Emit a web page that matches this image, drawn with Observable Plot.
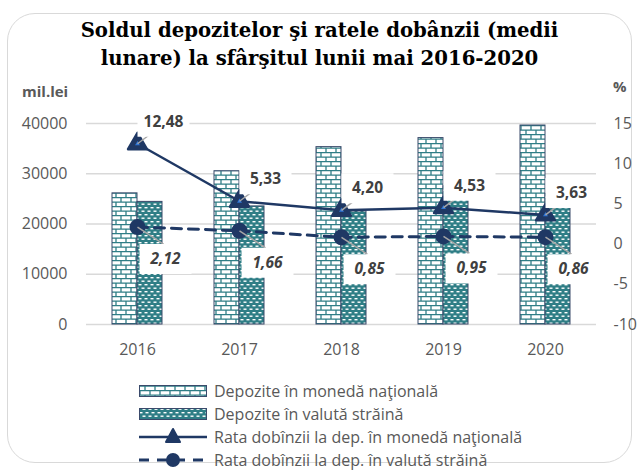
<!DOCTYPE html>
<html><head><meta charset="utf-8">
<script src="https://cdn.jsdelivr.net/npm/d3@7"></script>
<script src="https://cdn.jsdelivr.net/npm/@observablehq/plot@0.6"></script>
<style>
body{margin:0;background:#fff;width:639px;height:470px;overflow:hidden;position:relative;font-family:"Open Sans",sans-serif;}
#frame{position:absolute;left:7px;top:13px;width:625px;height:450px;border:1.5px solid #d9d9d9;border-radius:28px;box-sizing:border-box;}
#title{position:absolute;left:0;top:17px;width:639px;text-align:center;font-family:"DejaVu Serif",serif;font-weight:bold;font-size:19.7px;line-height:28px;color:#000;}
#ylab{position:absolute;left:22px;top:81px;font-size:15px;font-weight:bold;line-height:20px;color:#595959;}
#y2lab{position:absolute;left:613px;top:76px;font-size:15px;font-weight:bold;line-height:20px;color:#595959;}
#chart{position:absolute;left:0;top:80px;}
#legend{position:absolute;left:139px;top:379px;font-size:16px;color:#595959;}
.row{height:23px;display:flex;align-items:center;white-space:nowrap;}
.row svg{margin-right:7px;flex:none;}
</style>
</head><body>
<svg width="0" height="0" style="position:absolute">
<defs>
<pattern id="brick" patternUnits="userSpaceOnUse" width="10" height="9">
<rect width="10" height="9" fill="#fff"/>
<path d="M0,0.65H10M0,5.15H10M1,0.65V5.15M6,5.15V9" stroke="#2f7e86" stroke-width="1.3" fill="none"/>
</pattern>
<pattern id="dots" patternUnits="userSpaceOnUse" width="6" height="7">
<rect width="6" height="7" fill="#2f7e86"/>
<rect x="0.5" y="1" width="3" height="1.4" fill="#fff"/>
<rect x="3.5" y="4.5" width="2.5" height="1.4" fill="#fff"/>
<rect x="0" y="4.5" width="0.5" height="1.4" fill="#fff"/>
</pattern>
</defs>
</svg>
<div id="frame"></div>
<div id="title">Soldul depozitelor şi ratele dobânzii (medii<br>lunare) la sfârşitul lunii mai 2016-2020</div>
<div id="ylab">mil.lei</div>
<div id="y2lab">%</div>
<div id="chart"></div>
<div id="legend"></div>
<script>
const years = ["2016", "2017", "2018", "2019", "2020"];
const depNational = [26100, 30500, 35300, 37100, 39600];
const depForeign = [24400, 23500, 22500, 27500, 26000];
const rateNational = [12.48, 5.33, 4.20, 4.53, 3.63];
const rateForeign = [2.12, 1.66, 0.85, 0.95, 0.86];
const leftTicks = [0, 10000, 20000, 30000, 40000];
const rightTicks = [-10, -5, 0, 5, 10, 15];
const legendLabels = ["Depozite în monedă naţională", "Depozite în valută străină", "Rata dobînzii la dep. în monedă naţională", "Rata dobînzii la dep. în valută străină"];

const NAVY = "#1f3864", OUT = "#3a4a6b", LABEL = "#404040", LEAD = "#a6a6a6";
// right axis (%) mapped onto the left scale: -10..15 <-> 0..40000
const toY = r => (r + 10) * 1600;
const fmt = v => d3.format(".2f")(v).replace(".", ",");

const boxSym = {draw(ctx) { ctx.rect(-26, -15, 52, 30); }};
const leadF = {draw(ctx) { ctx.moveTo(0, 0); ctx.lineTo(26, 17); }};
const leadN = {draw(ctx) { ctx.moveTo(0, 0); ctx.lineTo(24, -18); }};

const yNat = rateNational.map(toY), yFor = rateForeign.map(toY);

const chart = Plot.plot({
  width: 639, height: 290,
  marginTop: 43, marginBottom: 46, marginLeft: 86, marginRight: 43,
  style: {fontFamily: "Open Sans", fontSize: "16px", color: "#595959", background: "transparent", overflow: "visible"},
  x: {type: "band", domain: years, padding: 0, tickSize: 0, tickPadding: 19, label: null},
  y: {domain: [0, 40000], ticks: leftTicks, tickSize: 0, tickPadding: 19, label: null, tickFormat: d => String(d)},
  marks: [
    Plot.ruleY(leftTicks, {stroke: "#d9d9d9", strokeWidth: 1.3}),
    Plot.text(rightTicks, {y: rightTicks.map(toY), text: d => String(d), frameAnchor: "right", dx: 17, textAnchor: "start", fill: "#595959", fontSize: 16}),
    Plot.barY(years, {x: years, y: depNational, insetLeft: 26, insetRight: 51, fill: "url(#brick)", stroke: OUT, strokeWidth: 1}),
    Plot.barY(years, {x: years, y: depForeign, insetLeft: 51, insetRight: 26, fill: "url(#dots)", stroke: OUT, strokeWidth: 1}),
    Plot.line(years, {x: years, y: yNat, stroke: NAVY, strokeWidth: 2.5}),
    Plot.line(years, {x: years, y: yFor, stroke: NAVY, strokeWidth: 3, strokeDasharray: "10,7"}),
    Plot.dot(years, {x: years, y: yNat, symbol: "triangle", r: 7, fill: NAVY, stroke: NAVY, strokeWidth: 2.5, strokeLinejoin: "round"}),
    Plot.dot(years, {x: years, y: yNat, symbol: "triangle", r: 1.8, fill: "#2e75d6", stroke: "none"}),
    Plot.dot(years, {x: years, y: yFor, r: 8, fill: NAVY, stroke: "none"}),
    Plot.dot(years, {x: years, y: yFor, symbol: leadF, r: 1, fill: "none", stroke: LEAD, strokeWidth: 1.5}),
    Plot.dot(years, {x: years, y: yNat, symbol: leadN, r: 1, fill: "none", stroke: LEAD, strokeWidth: 1.5}),
    Plot.dot(years, {x: years, y: yNat, symbol: boxSym, r: 1, fill: "white", stroke: "none", dx: 26, dy: -22}),
    Plot.dot(years, {x: years, y: yFor, symbol: boxSym, r: 1, fill: "white", stroke: "none", dx: 28, dy: 32}),
    Plot.text(years, {x: years, y: yNat, text: rateNational.map(fmt), dx: 26, dy: -22, fill: LABEL, fontWeight: "bold", fontSize: 15.5}),
    Plot.text(years, {x: years, y: yFor, text: rateForeign.map(fmt), dx: 28, dy: 32, fill: LABEL, fontWeight: "bold", fontStyle: "italic", fontSize: 15.5})
  ]
});
document.getElementById("chart").appendChild(chart);

const sym = [
  `<rect x="0.5" y="4.5" width="67" height="11" fill="url(#brick)" stroke="${OUT}"/>`,
  `<rect x="0.5" y="4.5" width="67" height="11" fill="url(#dots)" stroke="${OUT}"/>`,
  `<line x1="0" x2="68" y1="10" y2="10" stroke="${NAVY}" stroke-width="2.5"/><path d="M34,2 L41,15 L27,15 Z" fill="${NAVY}" stroke="${NAVY}" stroke-width="2" stroke-linejoin="round"/>`,
  `<line x1="0" x2="68" y1="10" y2="10" stroke="${NAVY}" stroke-width="3" stroke-dasharray="10,8"/><circle cx="34" cy="10" r="7" fill="${NAVY}"/>`
];
const leg = document.getElementById("legend");
legendLabels.forEach((t, i) => {
  const row = document.createElement("div");
  row.className = "row";
  row.innerHTML = `<svg width="68" height="20">${sym[i]}</svg><span>${t}</span>`;
  leg.appendChild(row);
});
</script>
</body></html>
